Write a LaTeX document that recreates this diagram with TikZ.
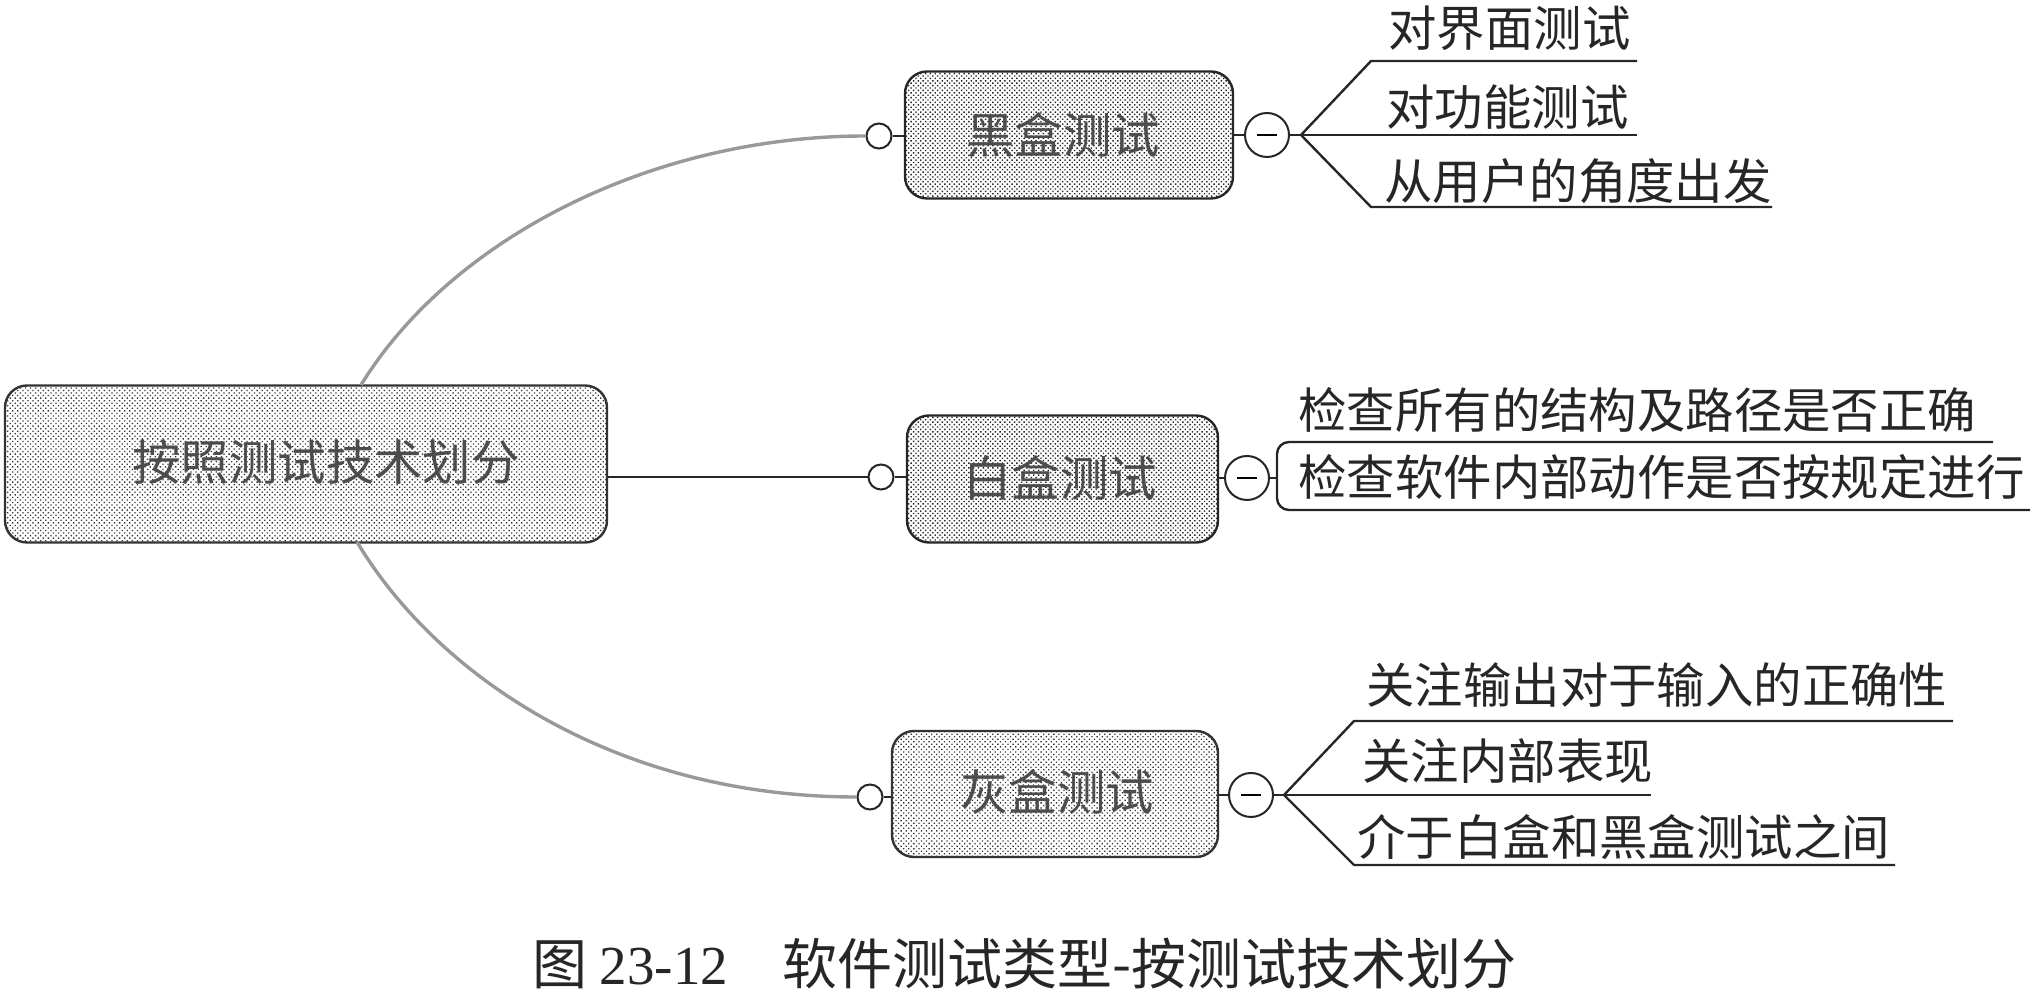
\documentclass[tikz,border=0pt]{standalone}
\usepackage{fontspec}
\setmainfont{Noto Sans CJK SC}
\newfontfamily\latinserif{Liberation Serif}
\usetikzlibrary{patterns.meta}
\tikzset{
  lbl/.style={font=\fontsize{24.2pt}{26pt}\selectfont, inner sep=0pt, text=black!85},
  boxlbl/.style={font=\fontsize{24.2pt}{26pt}\selectfont, inner sep=0pt, text=black!70},
  denseBox/.style={draw=black!85, line width=1.2pt, rounded corners=11pt, inner sep=0pt,
    pattern={Dots[radius=0.5pt,distance=1.7pt,angle=45]}, pattern color=black!85},
  lightBox/.style={draw=black!80, line width=1.2pt, rounded corners=11pt, inner sep=0pt,
    pattern={Dots[radius=0.46pt,distance=1.8pt,angle=45]}, pattern color=black!80},
  port/.style={circle, draw=black!85, line width=1pt, fill=white, minimum size=12.5pt, inner sep=0pt},
  fold/.style={circle, draw=black!85, line width=1pt, fill=white, minimum size=22pt, inner sep=0pt},
  wire/.style={draw=black!85, line width=1.2pt},
  trunk/.style={draw=black!40, line width=1.7pt},
}
\newcommand{\minusbar}{\rule[0.0pt]{10pt}{1pt}}
\begin{document}
\begin{tikzpicture}[x=0.5pt,y=-0.5pt]
\useasboundingbox (0,0) rectangle (2036,1004);

% main box and branch boxes
\node[lightBox, minimum width=301pt, minimum height=78.5pt] (main) at (306,464) {};
\node[boxlbl] (maint) at (326,462) {按照测试技术划分};

\node[denseBox, minimum width=164pt, minimum height=63.5pt] (black) at (1069,135) {};
\node[boxlbl] (blackt) at (1063,135) {黑盒测试};
\node[denseBox, minimum width=155.5pt, minimum height=63.5pt] (white) at (1062.5,479) {};
\node[boxlbl] (whitet) at (1060,478) {白盒测试};
\node[lightBox, minimum width=163pt, minimum height=63pt] (grey) at (1055,794) {};
\node[boxlbl] (greyt) at (1057,792) {灰盒测试};

% ports
\node[port] (pb) at (879,136) {};
\node[port] (pw) at (881,477) {};
\node[port] (pg) at (870,797) {};

% fold circles
\node[fold] (fb) at (1267,135) {\minusbar};
\node[fold] (fw) at (1247,478) {\minusbar};
\node[fold] (fg) at (1251,795) {\minusbar};

% anchors for connectors
\coordinate (mt) at (361,385);
\coordinate (mb) at (357,542);

% trunks
\draw[trunk] (mt) .. controls (450,240) and (650,136) .. (pb.west);
\draw[trunk] (mb) .. controls (440,680) and (620,797) .. (pg.west);
\draw[wire] (main.east |- pw) -- (pw);
\draw[wire] (pb) -- (black.west |- pb);
\draw[wire] (pw) -- (white.west |- pw);
\draw[wire] (pg) -- (grey.west |- pg);
\draw[wire] (black.east |- fb) -- (fb);
\draw[wire] (white.east |- fw) -- (fw);
\draw[wire] (grey.east |- fg) -- (fg);

% black fan
\coordinate (bj) at (1301,135);
\coordinate (b1a) at (1371,61);  \coordinate (b1b) at (1637,61);
\coordinate (b2b) at (1637,135);
\coordinate (b3a) at (1371,207); \coordinate (b3b) at (1772,207);
\draw[wire] (fb) -- (bj);
\draw[wire] (bj) -- (b1a) -- (b1b);
\draw[wire] (bj) -- (b2b);
\draw[wire] (bj) -- (b3a) -- (b3b);
\node[lbl, anchor=west] (b1) at (1388,28) {对界面测试};
\node[lbl, anchor=west] (b2) at (1386,107) {对功能测试};
\node[lbl, anchor=west] (b3) at (1384,181) {从用户的角度出发};

% white bracket
\coordinate (wj) at (1277,478);
\coordinate (w1a) at (1277,442); \coordinate (w1b) at (1993,442);
\coordinate (w2a) at (1277,510); \coordinate (w2b) at (2030,510);
\draw[wire] (fw) -- (wj);
\draw[wire, rounded corners=6pt] (w1b) -- (w1a) -- (w2a) -- (w2b);
\node[lbl, anchor=west] (w1) at (1298,410) {检查所有的结构及路径是否正确};
\node[lbl, anchor=west] (w2) at (1298,477) {检查软件内部动作是否按规定进行};

% grey fan
\coordinate (gj) at (1284,795);
\coordinate (g1a) at (1354,721); \coordinate (g1b) at (1953,721);
\coordinate (g2b) at (1651,795);
\coordinate (g3a) at (1354,865); \coordinate (g3b) at (1895,865);
\draw[wire] (fg) -- (gj);
\draw[wire] (gj) -- (g1a) -- (g1b);
\draw[wire] (gj) -- (g2b);
\draw[wire] (gj) -- (g3a) -- (g3b);
\node[lbl, anchor=west] (g1) at (1366,685) {关注输出对于输入的正确性};
\node[lbl, anchor=west] (g2) at (1362,761) {关注内部表现};
\node[lbl, anchor=west] (g3) at (1357,837) {介于白盒和黑盒测试之间};

% caption
\node[anchor=west, inner sep=0pt, text=black!85, font=\fontsize{27.5pt}{30pt}\selectfont] (cap) at (532,964)
  {图 {\latinserif 23-12}\hspace{27pt}软件测试类型-按测试技术划分};
\end{tikzpicture}
\end{document}
